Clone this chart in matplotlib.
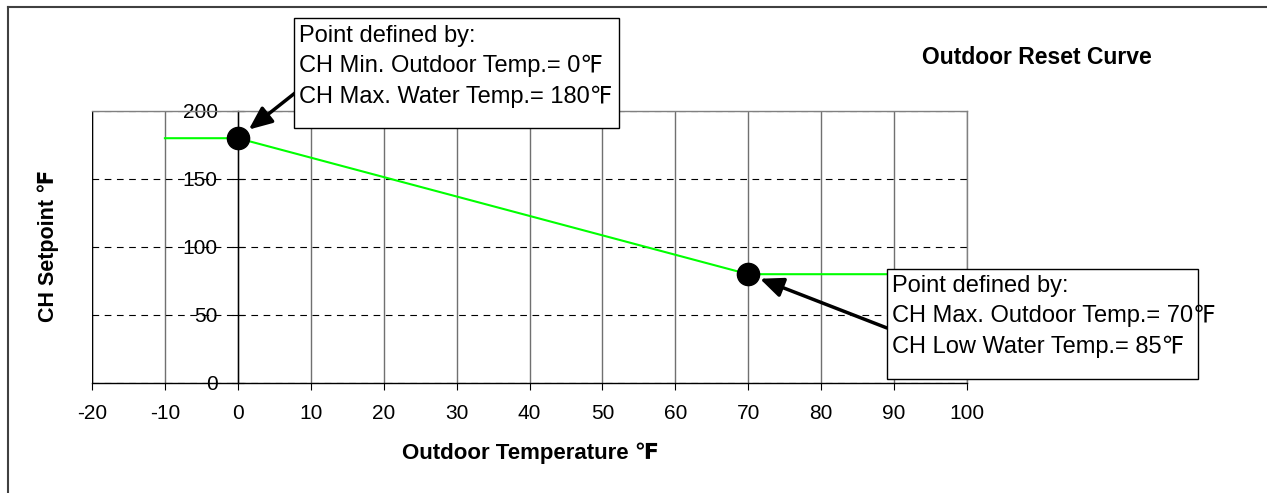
import matplotlib
matplotlib.use('Agg')
import matplotlib.pyplot as plt
from matplotlib.patches import Rectangle
from matplotlib.lines import Line2D

# Reset curve data
temps = [-10, 0, 70, 90]
setpoints = [180, 180, 80, 80]
pt_temps = [0, 70]
pt_setpoints = [180, 80]
x_ticks = list(range(-20, 101, 10))
y_ticks = [0, 50, 100, 150, 200]
note_min = "Point defined by:\nCH Min. Outdoor Temp.= 0℉\nCH Max. Water Temp.= 180℉"
note_max = "Point defined by:\nCH Max. Outdoor Temp.= 70℉\nCH Low Water Temp.= 85℉"

plt.rcParams['font.family'] = ['Liberation Sans', 'DejaVu Sans']
plt.rcParams['axes.unicode_minus'] = False

W, H = 1267, 493


def fp(x, y):
    # pixel position (from top-left) -> figure fraction
    return (x / W, 1 - y / H)


fig = plt.figure(figsize=(W / 100, H / 100), dpi=100)
ax = fig.add_axes([92 / W, 1 - 383 / H, (967 - 92) / W, (383 - 111) / H])

ax.set_xlim(-20, 100)
ax.set_ylim(0, 200)
ax.set_xticks(x_ticks)
ax.set_yticks(y_ticks)
ax.set_axisbelow(True)
ax.grid(axis='x', color='#707070', lw=1.0)
ax.grid(axis='y', color='black', lw=0.8, linestyle=(0, (6, 5)))
ax.axvline(-20, color='black', lw=1.0, zorder=1)

ax.spines['left'].set_position(('data', 0))
ax.spines['left'].set_color('black')
ax.spines['bottom'].set_color('black')
ax.spines['top'].set_color('#808080')
ax.spines['right'].set_color('#808080')
for s in ax.spines.values():
    s.set_linewidth(1.0)

ax.tick_params(axis='y', direction='inout', length=8, pad=10.4, labelsize=15, width=0.8)
ax.tick_params(axis='x', direction='out', length=5, pad=10, labelsize=15, width=0.8)

ax.plot(temps, setpoints, color='#00ff00', lw=1.5, zorder=3)
ax.plot(pt_temps, pt_setpoints, 'o', color='black', ms=16, zorder=4)

arrow = dict(arrowstyle='-|>,head_length=0.7,head_width=0.3', lw=2.5,
             color='black', shrinkA=0, mutation_scale=20)
ax.annotate('', xy=(pt_temps[0], pt_setpoints[0]), xycoords='data',
            xytext=fp(295, 93), textcoords='figure fraction',
            arrowprops=dict(arrow, shrinkB=10))
ax.annotate('', xy=(pt_temps[1], pt_setpoints[1]), xycoords='data',
            xytext=fp(887, 328), textcoords='figure fraction',
            arrowprops=dict(arrow, shrinkB=9))

# note boxes
fig.add_artist(Rectangle(fp(294, 128), (619 - 294) / W, (128 - 18) / H,
                         transform=fig.transFigure, fc='white', ec='black', lw=1, zorder=5))
fig.text(*fp(299, 25), note_min, ha='left', va='top', fontsize=17, linespacing=1.46, zorder=6)
fig.add_artist(Rectangle(fp(887, 379), (1198 - 887) / W, (379 - 269) / H,
                         transform=fig.transFigure, fc='white', ec='black', lw=1, zorder=5))
fig.text(*fp(892, 275), note_max, ha='left', va='top', fontsize=17, linespacing=1.46, zorder=6)

fig.text(*fp(1037, 64), 'Outdoor Reset Curve', ha='center', va='baseline',
         fontsize=16.5, weight='bold')
fig.text(*fp(530, 459), 'Outdoor Temperature ℉', ha='center', va='baseline',
         fontsize=16, weight='bold')
fig.text(*fp(48, 246), 'CH Setpoint ℉', ha='center', va='center', rotation=90,
         fontsize=15.5, weight='bold')

# outer frame (top and left edges only)
fig.add_artist(Line2D([8 / W, 1], [1 - 7 / H] * 2, transform=fig.transFigure, color='#404040', lw=1.5))
fig.add_artist(Line2D([8 / W] * 2, [1 - 7 / H, 0], transform=fig.transFigure, color='#404040', lw=1.5))

fig.savefig('out.png', dpi=100)
